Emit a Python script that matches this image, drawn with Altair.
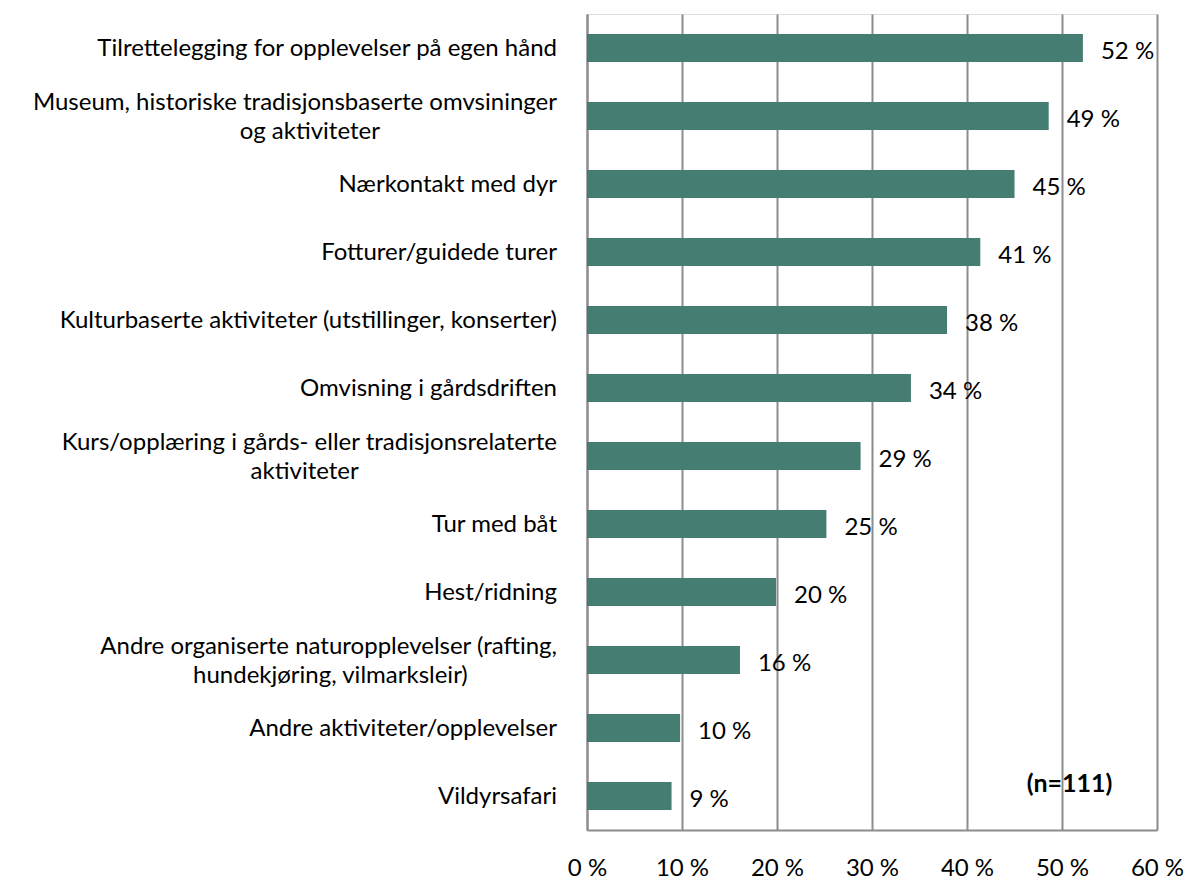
import altair as alt
import pandas as pd

categories = [
    "Tilrettelegging for opplevelser på egen hånd",
    "Museum, historiske tradisjonsbaserte omvsininger|og aktiviteter",
    "Nærkontakt med dyr",
    "Fotturer/guidede turer",
    "Kulturbaserte aktiviteter (utstillinger, konserter)",
    "Omvisning i gårdsdriften",
    "Kurs/opplæring i gårds- eller tradisjonsrelaterte|aktiviteter",
    "Tur med båt",
    "Hest/ridning",
    "Andre organiserte naturopplevelser (rafting,|hundekjøring, vilmarksleir)",
    "Andre aktiviteter/opplevelser",
    "Vildyrsafari",
]
values = [52.2, 48.6, 45.0, 41.4, 37.9, 34.1, 28.8, 25.2, 19.9, 16.1, 9.8, 8.9]
x_ticks = [0, 10, 20, 30, 40, 50, 60]
note_text = "(n=111)"
note_x = 50.8
note_cat = "Vildyrsafari"

FONT = "Lato"
FS = 24
BAR = "#467d73"
GRID = "#8c8c8c"
LABEL_GAP = 30      # px between label block and axis
CHAR_W = 10.3       # rough average glyph width at this font size
HALF_LH = 14.5      # half line height for two-line labels

df = pd.DataFrame({"cat": categories, "val": values})
df["lab"] = df["val"].round(0).astype(int).astype(str) + " %"

y_sort = alt.Y("cat:N", sort=categories)

y_enc = alt.Y(
    "cat:N",
    sort=categories,
    title=None,
    scale=alt.Scale(paddingInner=0.59, paddingOuter=0.295),
    axis=alt.Axis(
        labels=False,
        ticks=False,
        domainColor=GRID,
        domainWidth=2,
        grid=False,
    ),
)
x_enc = alt.X(
    "val:Q",
    title=None,
    scale=alt.Scale(domain=[0, 60], nice=False),
    axis=alt.Axis(
        values=x_ticks,
        labelExpr="datum.value + ' %'",
        labelFontSize=FS,
        labelFont=FONT,
        labelColor="#000000",
        labelPadding=26,
        labelFlush=False,
        ticks=False,
        domainColor=GRID,
        domainWidth=2,
        grid=True,
        gridColor=GRID,
        gridWidth=2,
        gridOpacity=1,
    ),
)

base = alt.Chart(df)
bars = base.mark_bar(color=BAR).encode(x=x_enc, y=y_enc)

labels = base.mark_text(
    align="left", baseline="middle", dx=18, dy=4, fontSize=FS, font=FONT, color="#000000"
).encode(x="val:Q", y=y_sort, text="lab:N")

# category labels (right-aligned; second line centred under the first)
cat_base = base.transform_calculate(
    parts="split(datum.cat, '|')"
).transform_calculate(
    line1="datum.parts[0]",
    line2="length(datum.parts) > 1 ? datum.parts[1] : ''",
    w1=f"length(datum.parts[0]) * {CHAR_W}",
)
txt_kw = dict(baseline="middle", fontSize=FS, font=FONT, color="#000000")

single = cat_base.transform_filter("datum.line2 == ''").mark_text(
    align="right", dy=1, **txt_kw
).encode(x=alt.value(-LABEL_GAP), y=y_sort, text="line1:N")

first = cat_base.transform_filter("datum.line2 != ''").mark_text(
    align="right", dy=-HALF_LH + 1, **txt_kw
).encode(x=alt.value(-LABEL_GAP), y=y_sort, text="line1:N")

second = cat_base.transform_filter("datum.line2 != ''").mark_text(
    align="center", dy=HALF_LH + 1, **txt_kw
).encode(
    x=alt.value({"expr": f"-{LABEL_GAP} - datum.w1 / 2"}),
    y=y_sort,
    text="line2:N",
)

note_df = pd.DataFrame({"cat": [note_cat], "val": [note_x], "t": [note_text]})
note = alt.Chart(note_df).mark_text(
    align="center", baseline="middle", dy=-12, fontSize=25, font=FONT, fontWeight="bold", color="#000000"
).encode(x="val:Q", y=y_sort, text="t:N")

chart = (
    alt.layer(bars, labels, single, first, second, note)
    .properties(
        width=570,
        height=816,
        autosize=alt.AutoSizeParams(type="none"),
        padding={"left": 579, "top": 6, "right": 30, "bottom": 50},
    )
    .configure_view(stroke=None)
    .configure(background="white")
)

chart.save("out.html", embed_options={"renderer": "svg", "actions": False})
